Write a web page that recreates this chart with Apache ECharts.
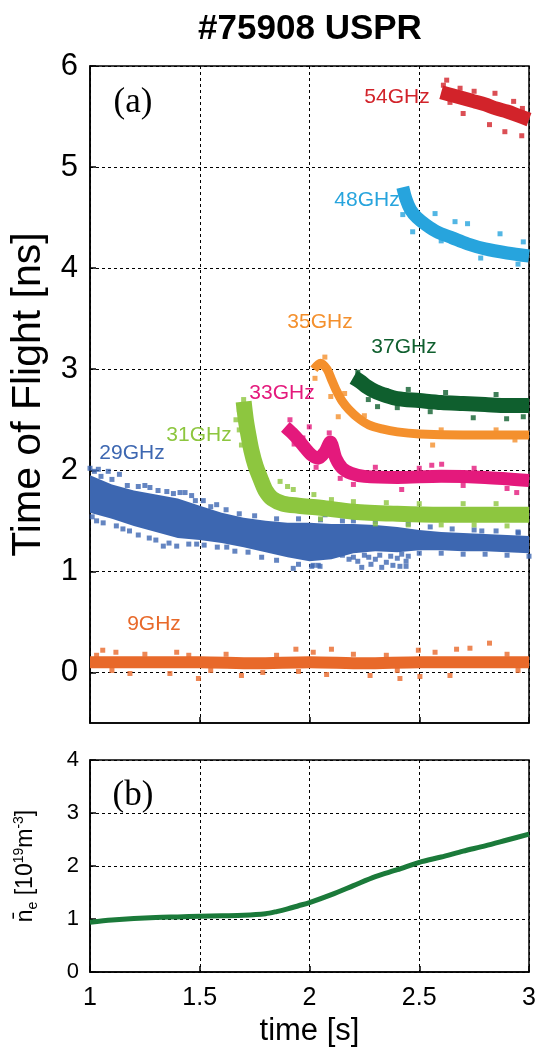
<!DOCTYPE html>
<html>
<head>
<meta charset="utf-8">
<script src="https://cdn.jsdelivr.net/npm/echarts@6/dist/echarts.min.js"></script>
<style>
html,body{margin:0;padding:0;background:#fff;}
#chart{width:540px;height:1048px;}
</style>
</head>
<body>
<div id="chart"></div>
<script>
// ---------- tick labels ----------
const timeTicks = [1, 1.5, 2, 2.5, 3];
const tofTicks = [0, 1, 2, 3, 4, 5, 6];
const neTicks = [0, 1, 2, 3, 4];

// ---------- 54 GHz ----------
const t54 = [2.60, 2.65, 2.70, 2.75, 2.80, 2.85, 2.90, 2.95, 3.00];
const v54 = [5.74, 5.71, 5.68, 5.65, 5.62, 5.58, 5.55, 5.51, 5.47];
const o54 = [[2.625,5.86],[2.61,5.81],[2.686,5.78],[2.845,5.73],[2.93,5.65],[2.70,5.53],[2.89,5.35],[2.967,5.31],[2.82,5.42],[2.75,5.75],[2.97,5.58],[2.64,5.64]];

// ---------- 48 GHz ----------
const t48 = [2.425, 2.44, 2.46, 2.49, 2.53, 2.58, 2.65, 2.72, 2.80, 2.90, 3.00];
const v48 = [4.80, 4.68, 4.58, 4.50, 4.43, 4.36, 4.30, 4.24, 4.19, 4.15, 4.12];
const o48 = [[2.425,4.53],[2.47,4.36],[2.663,4.46],[2.72,4.44],[2.868,4.34],[2.974,4.26],[2.572,4.54],[2.60,4.27],[2.78,4.10],[2.95,4.04]];

// ---------- 37 GHz ----------
const t37 = [2.20, 2.23, 2.26, 2.30, 2.35, 2.40, 2.50, 2.60, 2.70, 2.80, 2.90, 3.00];
const v37 = [2.92, 2.88, 2.83, 2.78, 2.74, 2.71, 2.69, 2.67, 2.66, 2.65, 2.64, 2.64];
const o37 = [[2.268,2.70],[2.746,2.52],[2.898,2.51],[2.974,2.53],[2.31,2.63],[2.22,2.97],[2.45,2.80],[2.62,2.77],[2.85,2.75],[2.55,2.58],[2.40,2.62]];

// ---------- 35 GHz ----------
const t35 = [2.02, 2.05, 2.08, 2.10, 2.12, 2.15, 2.18, 2.22, 2.27, 2.33, 2.40, 2.50, 2.70, 3.00];
const v35 = [3.00, 3.06, 3.00, 2.90, 2.80, 2.68, 2.60, 2.52, 2.45, 2.41, 2.38, 2.36, 2.35, 2.35];
const o35 = [[2.561,2.25],[2.025,2.91],[2.131,2.53],[2.097,2.73],[2.936,2.30],[2.07,3.12],[2.16,2.76],[2.25,2.54],[2.6,2.40],[2.85,2.40]];

// ---------- 33 GHz ----------
const t33 = [1.89, 1.92, 1.95, 1.98, 2.01, 2.04, 2.07, 2.095, 2.12, 2.15, 2.19, 2.25, 2.40, 2.60, 2.80, 3.00];
const v33 = [2.43, 2.37, 2.30, 2.22, 2.15, 2.12, 2.18, 2.28, 2.12, 2.02, 1.97, 1.94, 1.93, 1.94, 1.93, 1.90];
const o33 = [[1.911,2.50],[1.999,2.43],[2.09,2.37],[2.42,1.81],[2.602,2.06],[2.944,1.78],[2.557,2.05],[2.2,1.86],[2.3,2.03],[2.75,2.02],[2.9,1.82],
  [1.93,2.26],[1.97,2.32],[2.03,2.03],[2.14,1.92],[2.5,2.02],[2.7,1.85]];

// ---------- 31 GHz ----------
const t31 = [1.70, 1.71, 1.72, 1.735, 1.755, 1.78, 1.80, 1.83, 1.88, 1.95, 2.05, 2.20, 2.40, 2.60, 2.80, 3.00];
const v31 = [2.68, 2.50, 2.37, 2.20, 2.04, 1.90, 1.80, 1.72, 1.67, 1.65, 1.63, 1.59, 1.57, 1.56, 1.56, 1.56];
const o31 = [[1.70,2.70],[1.68,2.60],[1.665,2.50],[1.70,2.33],[1.866,1.89],[1.926,1.81],[1.90,1.84],[2.02,1.76],[2.30,1.47],[2.60,1.46],[2.90,1.45],[2.20,1.69],
  [2.10,1.71],[2.35,1.68],[2.50,1.67],[2.70,1.67],[2.85,1.67],[2.45,1.46],[2.75,1.46],[2.05,1.52],[1.68,2.40],[1.69,2.25],[1.745,2.30],[1.76,2.15]];

// ---------- 29 GHz (band lower / upper edge + scattered points) ----------
const t29  = [1.0, 1.1, 1.2, 1.3, 1.4, 1.5, 1.6, 1.7, 1.8, 1.9, 2.0, 2.1, 2.2, 2.3, 2.4, 2.5, 2.6, 2.7, 2.8, 2.9, 3.0];
const lo29 = [1.58, 1.52, 1.45, 1.39, 1.33, 1.31, 1.28, 1.24, 1.19, 1.14, 1.10, 1.12, 1.18, 1.20, 1.19, 1.21, 1.21, 1.20, 1.20, 1.19, 1.18];
const hi29 = [1.95, 1.86, 1.80, 1.76, 1.72, 1.65, 1.58, 1.53, 1.50, 1.48, 1.48, 1.47, 1.47, 1.46, 1.44, 1.41, 1.39, 1.38, 1.37, 1.36, 1.35];
const o29 = [[1.0,2.02],[1.038,2.01],[1.083,1.99],[1.134,1.96],[1.02,1.99],[1.25,1.85],[1.273,1.83],[1.41,1.78],[1.433,1.78],[1.463,1.75],[1.516,1.70],[1.577,1.66],
  [1.334,1.25],[1.395,1.25],[1.486,1.27],[1.623,1.24],[1.782,1.14],[1.926,1.03],[2.01,1.05],[2.04,1.06],[2.071,1.56],[2.017,1.06],[2.048,1.05],
  [2.238,1.04],[2.329,1.04],[2.412,1.05],[2.44,1.05],[2.20,1.50],[2.951,1.38],[2.785,1.40],[2.108,1.18],
  [2.15,1.16],[2.18,1.12],[2.20,1.14],[2.22,1.10],[2.25,1.16],[2.27,1.14],[2.30,1.12],[2.32,1.16],[2.35,1.09],[2.37,1.15],[2.40,1.13],[2.42,1.17],[2.44,1.10],[2.45,1.15],[2.28,1.07],[2.38,1.06],
  [1.01,1.54],[1.03,1.50],[1.06,1.48],[1.12,1.45],[1.15,1.42],[1.18,1.40],[1.22,1.36],[1.27,1.33],[1.30,1.31],[1.36,1.28],[1.45,1.27],[1.52,1.26],[1.58,1.24],[1.66,1.20],[1.72,1.19],[1.85,1.11],[1.95,1.07],
  [1.05,1.94],[1.10,1.91],[1.17,1.85],[1.22,1.84],[1.31,1.80],[1.35,1.79],[1.38,1.77],[1.48,1.70],[1.55,1.64],[1.62,1.61],[1.68,1.57],[1.75,1.55],[1.85,1.52],[1.95,1.52],[2.05,1.51],
  [2.15,1.50],[2.30,1.49],[2.45,1.47],[2.55,1.44],[2.65,1.42],[2.75,1.41],[2.85,1.40],[2.95,1.39],[2.50,1.18],[2.60,1.18],[2.70,1.17],[2.80,1.17],[2.90,1.16],[3.00,1.15]];

// ---------- 9 GHz ----------
const t9 = [1.0, 1.25, 1.5, 1.75, 2.0, 2.25, 2.5, 2.75, 3.0];
const v9 = [0.10, 0.10, 0.10, 0.09, 0.10, 0.09, 0.10, 0.10, 0.10];
const o9 = [[1.058,0.22],[1.118,0.20],[1.395,0.20],[1.494,-0.06],[1.364,-0.01],[1.182,-0.01],[1.938,0.23],[2.017,0.20],[2.10,0.23],[2.412,-0.06],[2.496,0.22],[2.503,-0.04],
  [2.67,0.23],[2.731,0.24],[2.82,0.29],[2.572,0.20],[2.64,-0.03],[1.69,-0.03],[1.787,0.0],[2.078,-0.02],[2.276,-0.03],
  [1.03,0.17],[1.25,0.18],[1.45,0.17],[1.62,0.18],[1.85,0.17],[2.2,0.18],[2.35,0.17],[2.9,0.18],[1.1,0.02],[1.55,0.02],[1.95,0.01],[2.4,0.02],[2.95,0.02]];

// ---------- line-averaged density (panel b) ----------
const tNe = [1.0, 1.1, 1.2, 1.3, 1.4, 1.5, 1.6, 1.7, 1.8, 1.85, 1.9, 1.95, 2.0, 2.1, 2.2, 2.3, 2.4, 2.5, 2.6, 2.7, 2.8, 2.9, 3.0];
const vNe = [0.94, 0.98, 1.01, 1.03, 1.04, 1.05, 1.06, 1.07, 1.10, 1.14, 1.19, 1.25, 1.31, 1.46, 1.63, 1.80, 1.93, 2.07, 2.17, 2.28, 2.38, 2.49, 2.60];

const zip = (a, b) => a.map((x, i) => [x, b[i]]);

const C = {
  c54: '#d2232a', c48: '#27a4dd', c37: '#0f5f2e', c35: '#f4902d',
  c33: '#e4197c', c31: '#8dc63f', c29: '#3d67b1', c9: '#e8692a', ne: '#1b7a3a'
};

const SANS = 'Liberation Sans, Arial, sans-serif';
const SERIF = 'Liberation Serif, Times New Roman, serif';
const dash = { color: '#000', width: 1, type: [3, 3] };

function band(name, t, v, color, w) {
  return {
    name: name, type: 'line', xAxisIndex: 0, yAxisIndex: 0,
    data: zip(t, v), showSymbol: false, smooth: 0.3,
    lineStyle: { color: color, width: w, cap: 'butt', join: 'round' },
    silent: true, animation: false
  };
}
function dots(name, pts, color) {
  return {
    name: name, type: 'scatter', xAxisIndex: 0, yAxisIndex: 0,
    data: pts, symbol: 'rect', symbolSize: 5,
    itemStyle: { color: color }, silent: true, animation: false
  };
}

const series = [
  // 29 GHz band drawn as a polygon between the lower and upper edge (through axis coords)
  { name: '29GHz', type: 'custom', xAxisIndex: 0, yAxisIndex: 0,
    data: t29.map((x, i) => [x, lo29[i], hi29[i]]),
    encode: { x: 0, y: [1, 2] },
    renderItem: function (params, api) {
      if (params.dataIndex !== 0) return null;
      const up = t29.map((x, i) => api.coord([x, hi29[i]]));
      const dn = t29.map((x, i) => api.coord([x, lo29[i]])).reverse();
      return { type: 'polygon', shape: { points: up.concat(dn) }, style: { fill: C.c29 } };
    },
    clip: true, silent: true, animation: false },
  dots('29o', o29, C.c29),
  band('31GHz', t31, v31, C.c31, 16), dots('31o', o31, C.c31),
  band('33GHz', t33, v33, C.c33, 13), dots('33o', o33, C.c33),
  band('35GHz', t35, v35, C.c35, 9), dots('35o', o35, C.c35),
  band('37GHz', t37, v37, C.c37, 15), dots('37o', o37, C.c37),
  band('48GHz', t48, v48, C.c48, 13), dots('48o', o48, C.c48),
  band('54GHz', t54, v54, C.c54, 14), dots('54o', o54, C.c54),
  band('9GHz', t9, v9, C.c9, 12), dots('9o', o9, C.c9),
  { name: 'ne', type: 'line', xAxisIndex: 1, yAxisIndex: 1,
    data: zip(tNe, vNe), showSymbol: false, smooth: 0.3,
    lineStyle: { color: C.ne, width: 5 }, silent: true, animation: false }
];

const freqLabels = [
  ['54GHz', C.c54, 397, 97], ['48GHz', C.c48, 367, 200], ['35GHz', C.c35, 320, 322],
  ['37GHz', C.c37, 404, 347], ['33GHz', C.c33, 282, 393], ['31GHz', C.c31, 199, 435],
  ['29GHz', C.c29, 132, 453], ['9GHz', C.c9, 154, 624]
];

const graphic = freqLabels.map(l => ({
  type: 'text', x: l[2], y: l[3], z: 100,
  style: { text: l[0], fill: l[1], font: '21px ' + SANS, align: 'center', verticalAlign: 'middle' }
}));
graphic.push({ type: 'text', x: 310, y: 29, style: { text: '#75908 USPR', fill: '#000', font: 'bold 35px ' + SANS, align: 'center', verticalAlign: 'middle' } });
graphic.push({ type: 'text', x: 133, y: 103, z: 100, style: { text: '(a)', fill: '#000', font: '35px ' + SERIF, align: 'center', verticalAlign: 'middle' } });
graphic.push({ type: 'text', x: 133, y: 796, z: 100, style: { text: '(b)', fill: '#000', font: '35px ' + SERIF, align: 'center', verticalAlign: 'middle' } });

const option = {
  backgroundColor: '#fff',
  animation: false,
  grid: [
    { left: 90, top: 66, width: 439, height: 657, show: true, borderColor: '#000', borderWidth: 1.5, backgroundColor: 'transparent', containLabel: false },
    { left: 90, top: 760, width: 439, height: 219, show: true, borderColor: '#000', borderWidth: 1.5, backgroundColor: 'transparent', containLabel: false }
  ],
  xAxis: [
    { gridIndex: 0, type: 'value', min: 1, max: 3, interval: 0.5,
      axisLine: { show: true, onZero: false, lineStyle: { color: '#000', width: 1.5 } },
      axisTick: { show: true, inside: true, length: 6, lineStyle: { color: '#000', width: 1.5 } },
      axisLabel: { show: false },
      splitLine: { show: true, lineStyle: dash } },
    { gridIndex: 1, type: 'value', min: 1, max: 3, interval: 0.5,
      axisLine: { show: true, onZero: false, lineStyle: { color: '#000', width: 1.5 } },
      axisTick: { show: true, inside: true, length: 6, lineStyle: { color: '#000', width: 1.5 } },
      axisLabel: { show: true, color: '#000', fontSize: 25, fontFamily: SANS, margin: 14,
        customValues: timeTicks, formatter: v => String(v) },
      splitLine: { show: true, lineStyle: dash },
      name: 'time [s]', nameLocation: 'middle', nameGap: 44,
      nameTextStyle: { color: '#000', fontSize: 31, fontFamily: SANS } }
  ],
  yAxis: [
    { gridIndex: 0, type: 'value', min: -0.5, max: 6,
      axisLine: { show: true, onZero: false, lineStyle: { color: '#000', width: 1.5 } },
      axisTick: { show: true, inside: true, length: 6, customValues: tofTicks, lineStyle: { color: '#000', width: 1.5 } },
      axisLabel: { show: true, color: '#000', fontSize: 31, fontFamily: SANS, margin: 12, customValues: tofTicks },
      splitLine: { show: true, lineStyle: dash },
      name: 'Time of Flight [ns]', nameLocation: 'middle', nameGap: 41, nameRotate: 90,
      nameTextStyle: { color: '#000', fontSize: 41, fontFamily: SANS } },
    { gridIndex: 1, type: 'value', min: 0, max: 4, interval: 1,
      axisLine: { show: true, onZero: false, lineStyle: { color: '#000', width: 1.5 } },
      axisTick: { show: true, inside: true, length: 6, lineStyle: { color: '#000', width: 1.5 } },
      axisLabel: { show: true, color: '#000', fontSize: 22, fontFamily: SANS, margin: 11, customValues: neTicks },
      splitLine: { show: true, lineStyle: dash },
      name: '{n|n\u0304}{sub|e}{t| [10}{sup|19}{t|m}{sup|-3}{t|]}', nameLocation: 'middle', nameGap: 50, nameRotate: 90,
      nameTextStyle: { color: '#000', fontFamily: SANS,
        rich: {
          n: { fontSize: 23, fontFamily: SANS, color: '#000', lineHeight: 28 },
          t: { fontSize: 23, fontFamily: SANS, color: '#000', lineHeight: 28 },
          sub: { fontSize: 14, fontFamily: SANS, color: '#000', verticalAlign: 'bottom', lineHeight: 16 },
          sup: { fontSize: 14, fontFamily: SANS, color: '#000', verticalAlign: 'top', lineHeight: 16 }
        } } }
  ],
  graphic: graphic,
  series: series
};

const chart = echarts.init(document.getElementById('chart'), null, { renderer: 'canvas' });
chart.setOption(option);
</script>
</body>
</html>
